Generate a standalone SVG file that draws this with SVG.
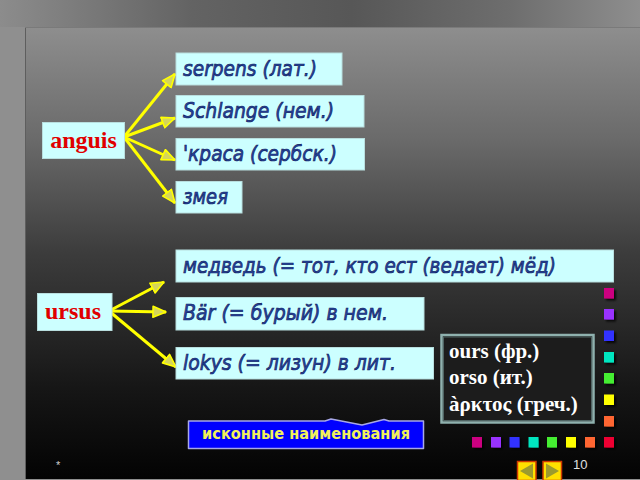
<svg xmlns="http://www.w3.org/2000/svg" width="640" height="480" viewBox="0 0 640 480">
  <defs>
    <linearGradient id="outerH" x1="0" y1="0" x2="1" y2="0">
      <stop offset="0" stop-color="#8c8c8c"/>
      <stop offset="0.3" stop-color="#636363"/>
      <stop offset="0.55" stop-color="#575757"/>
      <stop offset="0.8" stop-color="#6e6e6e"/>
      <stop offset="1" stop-color="#8e8e8e"/>
    </linearGradient>
    <linearGradient id="panel" x1="0" y1="0" x2="0" y2="1">
      <stop offset="0" stop-color="#8e8e8e"/>
      <stop offset="0.25" stop-color="#6a6a6a"/>
      <stop offset="0.5" stop-color="#3c3c3c"/>
      <stop offset="0.8" stop-color="#161616"/>
      <stop offset="1" stop-color="#030303"/>
    </linearGradient>
    <filter id="sh" x="-50%" y="-50%" width="200%" height="200%">
      <feDropShadow dx="2" dy="2" stdDeviation="1" flood-color="#000" flood-opacity="0.8"/>
    </filter>
    <marker id="ah" markerUnits="userSpaceOnUse" markerWidth="16" markerHeight="14" viewBox="-1 -1 16 14" refX="13" refY="5.5" orient="auto">
      <path d="M0,0 L13,5.5 L0,11 Z" fill="#d6d65a" stroke="#ffff00" stroke-width="1.6" stroke-linejoin="round"/>
    </marker>
    <style>
      .box { fill: #ccffff; stroke: #b8dede; stroke-width: 1; }
      .it { font-family: "DejaVu Sans", Verdana, sans-serif; font-style: italic; font-size: 22px; fill: #26449e; stroke: #10215f; stroke-width: 0.7; }
      .red { font-family: "Liberation Serif", "Times New Roman", serif; font-weight: bold; font-size: 24px; fill: #e00000; }
      .wt { font-family: "Liberation Serif", "Times New Roman", serif; font-weight: bold; font-size: 21px; fill: #ffffff; }
      .arr { stroke: #ffff00; stroke-width: 3; fill: none; marker-end: url(#ah); }
      .sq { filter: url(#sh); }
    </style>
  </defs>

  <!-- background -->
  <rect x="0" y="0" width="640" height="480" fill="#8e8e8e"/>
  <rect x="0" y="0" width="640" height="30" fill="url(#outerH)"/>
  <rect x="0" y="27" width="25" height="453" fill="#8f8f8f"/>
  <rect x="25" y="27" width="615" height="452" fill="url(#panel)"/>
  <line x1="25.5" y1="27" x2="25.5" y2="479" stroke="#5e5e5e" stroke-width="1"/>
  <line x1="25" y1="27.5" x2="640" y2="27.5" stroke="#7a7a7a" stroke-width="1"/>

  <!-- connectors -->
  <g id="connectors">
    <line class="arr" x1="124" y1="137" x2="175" y2="74"/>
    <line class="arr" x1="124" y1="137" x2="175" y2="118"/>
    <line class="arr" x1="124" y1="137" x2="175" y2="160"/>
    <line class="arr" x1="124" y1="137" x2="175" y2="203"/>
    <line class="arr" x1="109" y1="311" x2="164" y2="282"/>
    <line class="arr" x1="109" y1="311" x2="166" y2="312"/>
    <line class="arr" x1="109" y1="311" x2="176" y2="367"/>
  </g>

  <g id="anguis">
    <rect class="box" x="42.5" y="122.5" width="82" height="36"/>
    <text class="red" x="83.5" y="148" text-anchor="middle">anguis</text>
  </g>
  <g id="serpens">
    <rect class="box" x="176" y="53" width="166" height="32"/>
    <text class="it" x="183" y="76" textLength="134" lengthAdjust="spacingAndGlyphs">serpens (лат.)</text>
  </g>
  <g id="schlange">
    <rect class="box" x="176" y="95.5" width="188" height="31.5"/>
    <text class="it" x="183" y="118" textLength="151" lengthAdjust="spacingAndGlyphs">Schlange (нем.)</text>
  </g>
  <g id="krasa">
    <rect class="box" x="176" y="138.5" width="188.5" height="31.5"/>
    <text class="it" x="183" y="161" textLength="154" lengthAdjust="spacingAndGlyphs">'краса (сербск.)</text>
  </g>
  <g id="zmeya">
    <rect class="box" x="176" y="181.5" width="66" height="31.5"/>
    <text class="it" x="183" y="203.5" textLength="45" lengthAdjust="spacingAndGlyphs">змея</text>
  </g>

  <g id="ursus">
    <rect class="box" x="37.5" y="293.5" width="74.5" height="37"/>
    <text class="red" x="73" y="319" text-anchor="middle">ursus</text>
  </g>
  <g id="medved">
    <rect class="box" x="176" y="250" width="437.5" height="32"/>
    <text class="it" x="183" y="273" textLength="373" lengthAdjust="spacingAndGlyphs">медведь (= тот, кто ест (ведает) мёд)</text>
  </g>
  <g id="bar">
    <rect class="box" x="176" y="297.5" width="248" height="32.5"/>
    <text class="it" x="183" y="320" textLength="205" lengthAdjust="spacingAndGlyphs">Bär (= бурый) в нем.</text>
  </g>
  <g id="lokys">
    <rect class="box" x="176" y="347.5" width="257.5" height="31.5"/>
    <text class="it" x="183" y="370" textLength="213" lengthAdjust="spacingAndGlyphs">lokys (= лизун) в лит.</text>
  </g>

  <g id="others">
    <rect x="441.5" y="335" width="152" height="87.5" fill="#1c1c1c" stroke="#8fb1ae" stroke-width="2.5"/>
    <rect x="443.5" y="337" width="148" height="83.5" fill="none" stroke="#4f6463" stroke-width="1"/>
    <text class="wt" x="449" y="358">ours (фр.)</text>
    <text class="wt" x="449" y="384">orso (ит.)</text>
    <text class="wt" x="449" y="411">àρκτος (греч.)</text>
  </g>

  <g id="iskonnye">
    <path d="M188.5,421 H325 L331,419 L362,425 L384,419.5 L389,421 H423.5 V448.5 H188.5 Z" fill="#0000ff" stroke="#a8a8e8" stroke-width="1.5" stroke-linejoin="round"/>
    <text x="306" y="439" text-anchor="middle" font-family="'DejaVu Sans', Verdana, sans-serif" font-weight="bold" font-size="15" fill="#f2f25a" textLength="208" lengthAdjust="spacingAndGlyphs">исконные наименования</text>
  </g>

  <g id="squares">
    <rect class="sq" x="604" y="288" width="10" height="10.5" fill="#cc0080"/>
    <rect class="sq" x="604" y="309" width="10" height="10.5" fill="#9933ff"/>
    <rect class="sq" x="604" y="330.5" width="10" height="10.5" fill="#3333ff"/>
    <rect class="sq" x="604" y="352" width="10" height="10.5" fill="#00e6c0"/>
    <rect class="sq" x="604" y="373" width="10" height="10.5" fill="#44ee33"/>
    <rect class="sq" x="604" y="394.5" width="10" height="10.5" fill="#ffff00"/>
    <rect class="sq" x="604" y="416" width="10" height="10.5" fill="#ff6633"/>
    <rect class="sq" x="472" y="437" width="10" height="10.5" fill="#cc0080"/>
    <rect class="sq" x="491" y="437" width="10" height="10.5" fill="#9933ff"/>
    <rect class="sq" x="509.5" y="437" width="10" height="10.5" fill="#3333ff"/>
    <rect class="sq" x="528.5" y="437" width="10" height="10.5" fill="#00e6c0"/>
    <rect class="sq" x="547" y="437" width="10" height="10.5" fill="#44ee33"/>
    <rect class="sq" x="566" y="437" width="10" height="10.5" fill="#ffff00"/>
    <rect class="sq" x="585" y="437" width="10" height="10.5" fill="#ff6633"/>
    <rect class="sq" x="604" y="437" width="10" height="10.5" fill="#ee0033"/>
  </g>

  <g id="nav">
    <rect x="517.5" y="461.5" width="18.5" height="19" fill="#ffe000" stroke="#d03a00" stroke-width="1.5"/>
    <path d="M520,471 L533,463.5 L533,478.5 Z" fill="#9c9a2e"/>
    <rect x="543" y="461.5" width="18.5" height="19" fill="#ffe000" stroke="#d03a00" stroke-width="1.5"/>
    <path d="M546,463.5 L559,471 L546,478.5 Z" fill="#9c9a2e"/>
  </g>

  <g id="footer">
    <text x="573" y="468.5" font-family="'Liberation Sans', Arial, sans-serif" font-size="13" fill="#e0e0e0">10</text>
    <text x="56" y="469" font-family="'Liberation Sans', Arial, sans-serif" font-size="11" fill="#d0d0d0">*</text>
  </g>
</svg>
